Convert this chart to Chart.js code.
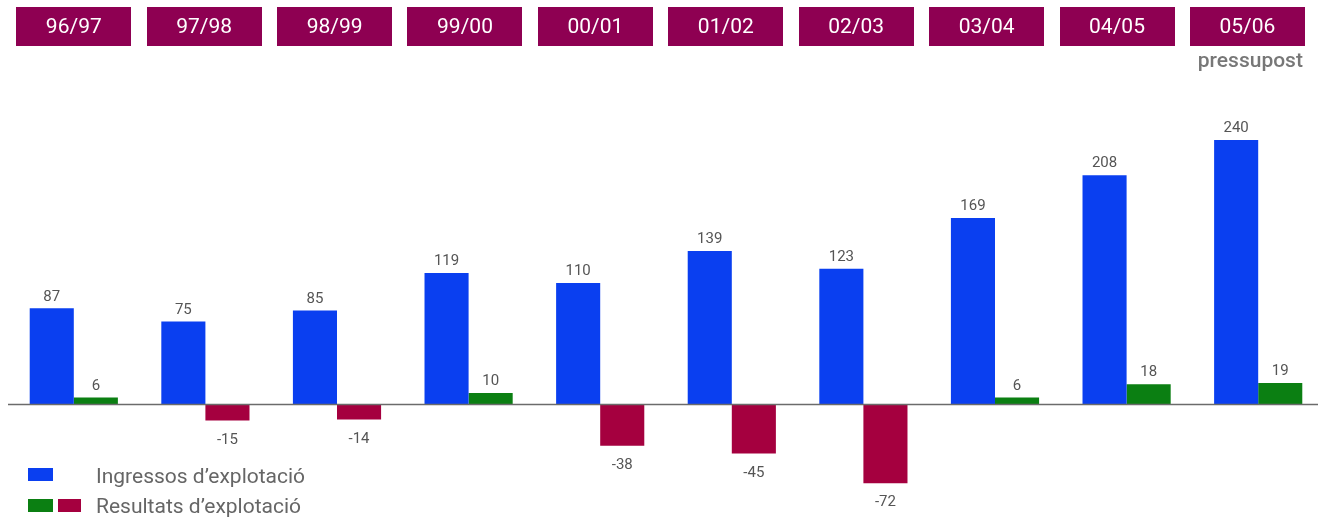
<!DOCTYPE html>
<html lang="ca">
<head>
<meta charset="utf-8">
<title>Ingressos i resultats d'explotació</title>
<script src="https://cdn.jsdelivr.net/npm/chart.js@4/dist/chart.umd.min.js"></script>
<style>
  html, body { margin: 0; padding: 0; background: #ffffff; }
  #wrap { width: 1325px; height: 520px; }
</style>
</head>
<body>
<div id="wrap"><canvas id="chart" width="1325" height="520"></canvas></div>
<script>
// Temporades
const seasons = ['96/97', '97/98', '98/99', '99/00', '00/01', '01/02', '02/03', '03/04', '04/05', '05/06'];
// Ingressos d'explotació
const ingressos = [87, 75, 85, 119, 110, 139, 123, 169, 208, 240];
// Resultats d'explotació
const resultats = [6, -15, -14, 10, -38, -45, -72, 6, 18, 19];
// Nota sota l'última temporada
const budgetNote = 'pressupost';
// Llegenda
const legendLabels = ['Ingressos d\u2019explotació', 'Resultats d\u2019explotació'];

const BLUE = '#0a3ff0';
const GREEN = '#0b7f12';
const RED = '#a5003f';
const HEADER = '#8e0052';
const FONT = 'Roboto, "Noto Sans", sans-serif';

const resultColors = resultats.map(v => (v >= 0 ? GREEN : RED));

// Capçalera de temporades, línia de zero, etiquetes de valor i llegenda
const decorations = {
  id: 'decorations',
  afterDatasetsDraw(chart) {
    const { ctx, chartArea, scales } = chart;
    const x = scales.x, y = scales.y;
    ctx.save();

    // línia de zero
    const y0 = Math.round(y.getPixelForValue(0)) + 0.5;
    ctx.strokeStyle = '#6b6b6b';
    ctx.lineWidth = 1.3;
    ctx.beginPath();
    ctx.moveTo(chartArea.left, y0);
    ctx.lineTo(chartArea.right - 6, y0);
    ctx.stroke();

    // etiquetes de valor
    ctx.font = '15px ' + FONT;
    ctx.fillStyle = '#555555';
    ctx.textAlign = 'center';
    chart.data.datasets.forEach((ds, di) => {
      const meta = chart.getDatasetMeta(di);
      meta.data.forEach((bar, i) => {
        const v = ds.data[i];
        if (v >= 0) {
          ctx.textBaseline = 'bottom';
          ctx.fillText(String(v), bar.x, bar.y - 4);
        } else {
          ctx.textBaseline = 'top';
          ctx.fillText(String(v), bar.x, bar.y + 12);
        }
      });
    });

    // capçalera de temporades
    const boxW = 115, boxH = 39, boxTop = 7;
    seasons.forEach((s, i) => {
      const cx = x.getPixelForValue(i) - i * 1.2;
      ctx.fillStyle = HEADER;
      ctx.fillRect(Math.round(cx - boxW / 2), boxTop, boxW, boxH);
      ctx.fillStyle = '#ffffff';
      ctx.font = '21px ' + FONT;
      ctx.textAlign = 'center';
      ctx.textBaseline = 'middle';
      ctx.fillText(s, cx, boxTop + boxH / 2 + 1);
      if (i === seasons.length - 1) {
        ctx.fillStyle = '#777777';
        ctx.font = '500 21px ' + FONT;
        ctx.textAlign = 'right';
        ctx.fillText(budgetNote, cx + boxW / 2 - 2, 62);
      }
    });

    // llegenda
    ctx.fillStyle = BLUE;
    ctx.fillRect(28, 468, 25, 13);
    ctx.fillStyle = GREEN;
    ctx.fillRect(28, 499, 25, 13);
    ctx.fillStyle = RED;
    ctx.fillRect(58, 499, 23, 13);
    ctx.fillStyle = '#666666';
    ctx.font = '21px ' + FONT;
    ctx.textAlign = 'left';
    ctx.textBaseline = 'middle';
    ctx.fillText(legendLabels[0], 96, 478);
    ctx.fillText(legendLabels[1], 96, 508);

    ctx.restore();
  }
};

new Chart(document.getElementById('chart'), {
  type: 'bar',
  data: {
    labels: seasons,
    datasets: [
      {
        label: legendLabels[0],
        data: ingressos,
        backgroundColor: BLUE,
        borderWidth: 0
      },
      {
        label: legendLabels[1],
        data: resultats,
        backgroundColor: resultColors,
        borderWidth: 0
      }
    ]
  },
  options: {
    responsive: false,
    animation: false,
    devicePixelRatio: 1,
    layout: { padding: { left: 8, right: 1, top: 118, bottom: 28 } },
    datasets: { bar: { categoryPercentage: 0.67, barPercentage: 1.0 } },
    plugins: {
      legend: { display: false },
      tooltip: { enabled: false }
    },
    scales: {
      x: { display: false, offset: true, grid: { display: false } },
      y: { display: false, min: -80, max: 260, grid: { display: false } }
    }
  },
  plugins: [decorations]
});
</script>
</body>
</html>
